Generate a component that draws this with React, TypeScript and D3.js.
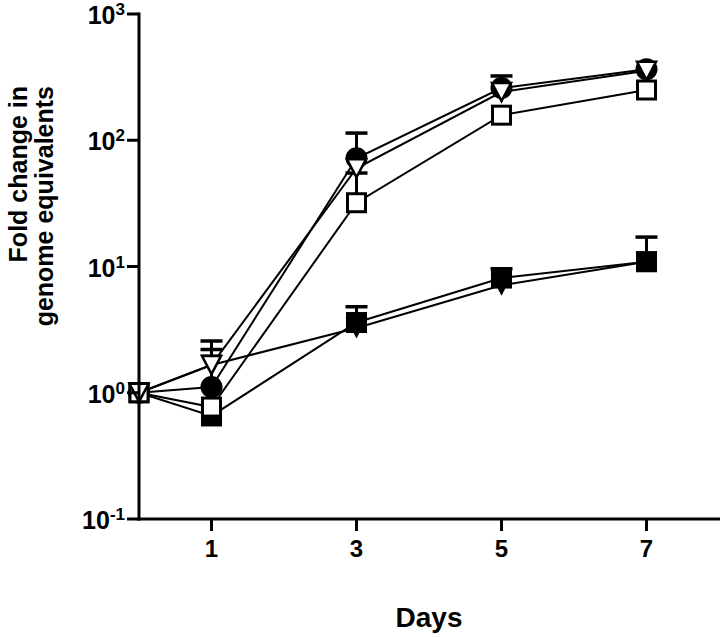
import React from "react";
import * as d3 from "d3";

const days = [0, 1, 3, 5, 7];
const xTicks = [1, 3, 5, 7];
const yTickExps = [-1, 0, 1, 2, 3];

const circleFilled = [1, 1.11, 72, 259, 365];
const circleFilledErr = [null, 2.2, 114, 323, null];
const squareFilled = [1, 0.655, 3.6, 8.1, 10.9];
const squareFilledErr = [null, null, 4.8, 9.6, 17.1];
const triangleFilled = [1, 1.66, 3.26, 7.1, 10.9];
const triangleFilledErr = [null, null, null, null, null];
const squareOpen = [1, 0.77, 32, 158, 250];
const squareOpenErr = [null, null, 55, null, null];
const triangleOpen = [1, 1.66, 60, 241, 355];
const triangleOpenErr = [null, 2.57, null, null, null];

type Series = { name: string; shape: "circle" | "square" | "triangle"; filled: boolean; values: number[]; err: (number | null)[] };

const series: Series[] = [
  { name: "circleFilled", shape: "circle", filled: true, values: circleFilled, err: circleFilledErr },
  { name: "squareFilled", shape: "square", filled: true, values: squareFilled, err: squareFilledErr },
  { name: "triangleFilled", shape: "triangle", filled: true, values: triangleFilled, err: triangleFilledErr },
  { name: "squareOpen", shape: "square", filled: false, values: squareOpen, err: squareOpenErr },
  { name: "triangleOpen", shape: "triangle", filled: false, values: triangleOpen, err: triangleOpenErr },
];

const FONT = "'Liberation Sans', Arial, Helvetica, sans-serif";

export default function App() {
  const W = 720, H = 637;
  const x = d3.scaleLinear().domain([0, 8]).range([139, 719]);
  const y = d3.scaleLog().domain([0.1, 1000]).range([519, 14]);
  const line = d3.line<number>().x((_, i) => x(days[i])).y((v) => y(v));

  const marker = (s: Series, v: number, i: number) => {
    const cx = x(days[i]);
    const cy = y(v);
    const fill = s.filled ? "#000" : "#fff";
    const key = s.name + i;
    if (s.shape === "circle") {
      return <circle key={key} cx={cx} cy={cy} r={11} fill={fill} stroke="#000" strokeWidth={s.filled ? 0 : 3} />;
    }
    if (s.shape === "square") {
      const sz = s.filled ? 21 : 18;
      return <rect key={key} x={cx - sz / 2} y={cy - sz / 2} width={sz} height={sz} fill={fill} stroke="#000" strokeWidth={s.filled ? 0 : 3} />;
    }
    const w = s.filled ? 22 : 19;
    const h = s.filled ? 21 : 18;
    const p = `M${cx - w / 2},${cy - h / 2} L${cx + w / 2},${cy - h / 2} L${cx},${cy + h / 2} Z`;
    return <path key={key} d={p} fill={fill} stroke="#000" strokeWidth={s.filled ? 0 : 2.5} strokeLinejoin="miter" />;
  };

  return (
    <svg width={W} height={H} style={{ position: "absolute", left: 0, top: 0, background: "#fff" }} fontFamily={FONT}>
      <rect width={W} height={H} fill="#fff" />
      {series.map((s) => (
        <path key={"l" + s.name} d={line(s.values) || ""} fill="none" stroke="#000" strokeWidth={2} />
      ))}
      {series.map((s) =>
        s.err.map((e, i) =>
          e == null ? null : (
            <g key={"e" + s.name + i}>
              <line x1={x(days[i])} x2={x(days[i])} y1={y(s.values[i])} y2={y(e)} stroke="#000" strokeWidth={3} />
              <line x1={x(days[i]) - 11} x2={x(days[i]) + 11} y1={y(e)} y2={y(e)} stroke="#000" strokeWidth={3.5} />
            </g>
          )
        )
      )}
      {series.map((s) => s.values.map((v, i) => marker(s, v, i)))}
      <line x1={139} x2={139} y1={y(1000) - 1.5} y2={520.5} stroke="#000" strokeWidth={3} />
      <line x1={137.5} x2={720} y1={519} y2={519} stroke="#000" strokeWidth={3} />
      {yTickExps.map((e) => (
        <g key={"yt" + e}>
          <line x1={127} x2={139} y1={y(Math.pow(10, e))} y2={y(Math.pow(10, e))} stroke="#000" strokeWidth={3} />
          <text x={125} y={y(Math.pow(10, e)) + 10} textAnchor="end" fontWeight="bold" fontSize={25} fill="#000">
            10<tspan fontSize={17} dy={-9}>{e}</tspan>
          </text>
        </g>
      ))}
      {xTicks.map((t) => (
        <g key={"xt" + t}>
          <line x1={x(t)} x2={x(t)} y1={519} y2={531} stroke="#000" strokeWidth={3} />
          <text x={x(t)} y={557} textAnchor="middle" fontWeight="bold" fontSize={24} fill="#000">{t}</text>
        </g>
      ))}
      <text x={429} y={627} textAnchor="middle" fontWeight="bold" fontSize={28} fill="#000">Days</text>
      <text transform="translate(27,86) rotate(-90)" textAnchor="end" fontWeight="bold" fontSize={25} fill="#000">Fold change in</text>
      <text transform="translate(53,86) rotate(-90)" textAnchor="end" fontWeight="bold" fontSize={25} fill="#000">genome equivalents</text>
    </svg>
  );
}
